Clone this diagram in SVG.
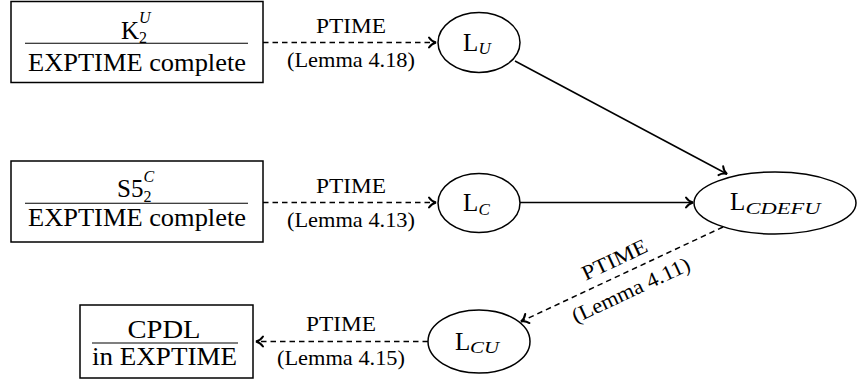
<svg xmlns="http://www.w3.org/2000/svg" width="857" height="381" viewBox="0 0 857 381">
<style>
text{font-family:"Liberation Serif","Times New Roman",serif;fill:#000}
.big{font-size:25px}
.sc{font-size:17px}
.ss{font-size:16px}
.it{font-style:italic}
.lab{font-size:21px;text-anchor:middle}
.mid{text-anchor:middle}
.box{fill:#fff;stroke:#000;stroke-width:1.5}
.rule{stroke:#000;stroke-width:1.1}
.ell{fill:#fff;stroke:#000;stroke-width:1.5}
.e{fill:none;stroke:#000;stroke-width:1.5}
.d{stroke-dasharray:5.5 4}
</style>
<defs>
<marker id="arr" markerUnits="userSpaceOnUse" orient="auto" refX="0" refY="0" viewBox="-9 -7 11 14" markerWidth="11" markerHeight="14" overflow="visible">
<path d="M-7,-5 C-5,-2 -2.5,-0.6 0,0 C-2.5,0.6 -5,2 -7,5" fill="none" stroke="#000" stroke-width="2" stroke-linecap="round"/>
</marker>
</defs>
<g id="connectors">
<line class="e d" x1="263" y1="42.5" x2="436" y2="42.5" marker-end="url(#arr)"/>
<line class="e d" x1="263" y1="202.5" x2="436" y2="202.5" marker-end="url(#arr)"/>
<line class="e" x1="515" y1="61" x2="727" y2="174" marker-end="url(#arr)"/>
<line class="e" x1="520" y1="202.5" x2="693" y2="202.5" marker-end="url(#arr)"/>
<line class="e d" x1="723" y1="227" x2="521" y2="321.5" marker-end="url(#arr)"/>
<line class="e d" x1="428" y1="341.5" x2="256" y2="341.5" marker-end="url(#arr)"/>
<text class="lab" x="351" y="33" textLength="70" lengthAdjust="spacingAndGlyphs">PTIME</text>
<text class="lab" x="351" y="66.5" textLength="128" lengthAdjust="spacingAndGlyphs">(Lemma 4.18)</text>
<text class="lab" x="351" y="193" textLength="70" lengthAdjust="spacingAndGlyphs">PTIME</text>
<text class="lab" x="351" y="226.5" textLength="128" lengthAdjust="spacingAndGlyphs">(Lemma 4.13)</text>
<text class="lab" x="341" y="331" textLength="70" lengthAdjust="spacingAndGlyphs">PTIME</text>
<text class="lab" x="341" y="365" textLength="128" lengthAdjust="spacingAndGlyphs">(Lemma 4.15)</text>
<g transform="translate(621.5,274.5) rotate(-25)">
<text class="lab" x="0" y="-9.5" textLength="70" lengthAdjust="spacingAndGlyphs">PTIME</text>
<text class="lab" x="2" y="25" textLength="128" lengthAdjust="spacingAndGlyphs">(Lemma 4.11)</text>
</g>
</g>
<g id="k2u">
<rect class="box" x="11" y="1.5" width="252" height="81"/>
<text class="big" x="121" y="38.5">K</text>
<text class="ss" x="139" y="43">2</text>
<text class="ss it" x="139" y="23">U</text>
<line class="rule" x1="25" y1="43.3" x2="248" y2="43.3"/>
<text class="big mid" x="137" y="71" textLength="218" lengthAdjust="spacingAndGlyphs">EXPTIME complete</text>
</g>
<g id="s52c">
<rect class="box" x="11" y="161" width="252" height="81"/>
<text class="big" x="117" y="197">S5</text>
<text class="ss" x="143.5" y="201.5">2</text>
<text class="ss it" x="143.5" y="182">C</text>
<line class="rule" x1="25" y1="203.3" x2="248" y2="203.3"/>
<text class="big mid" x="137" y="226" textLength="218" lengthAdjust="spacingAndGlyphs">EXPTIME complete</text>
</g>
<g id="cpdl">
<rect class="box" x="80" y="305" width="173" height="73"/>
<text class="big mid" x="164" y="338" textLength="73" lengthAdjust="spacingAndGlyphs">CPDL</text>
<line class="rule" x1="92" y1="343" x2="238" y2="343"/>
<text class="big mid" x="164.5" y="365" textLength="145" lengthAdjust="spacingAndGlyphs">in EXPTIME</text>
</g>
<g id="lu">
<ellipse class="ell" cx="479" cy="42.5" rx="41" ry="30"/>
<text class="big" x="463" y="50.5">L</text>
<text class="sc it" x="478.5" y="54">U</text>
</g>
<g id="lc">
<ellipse class="ell" cx="479" cy="203" rx="41" ry="29.5"/>
<text class="big" x="463" y="211">L</text>
<text class="sc it" x="478.5" y="214.5">C</text>
</g>
<g id="lcdefu">
<ellipse class="ell" cx="775" cy="203" rx="81" ry="31"/>
<text class="big" x="730" y="210">L</text>
<text class="sc it" x="745.5" y="213.5" textLength="75" lengthAdjust="spacingAndGlyphs">CDEFU</text>
</g>
<g id="lcu">
<ellipse class="ell" cx="479" cy="341.5" rx="51" ry="31.5"/>
<text class="big" x="455" y="349.5">L</text>
<text class="sc it" x="470" y="353" textLength="29" lengthAdjust="spacingAndGlyphs">CU</text>
</g>
</svg>
